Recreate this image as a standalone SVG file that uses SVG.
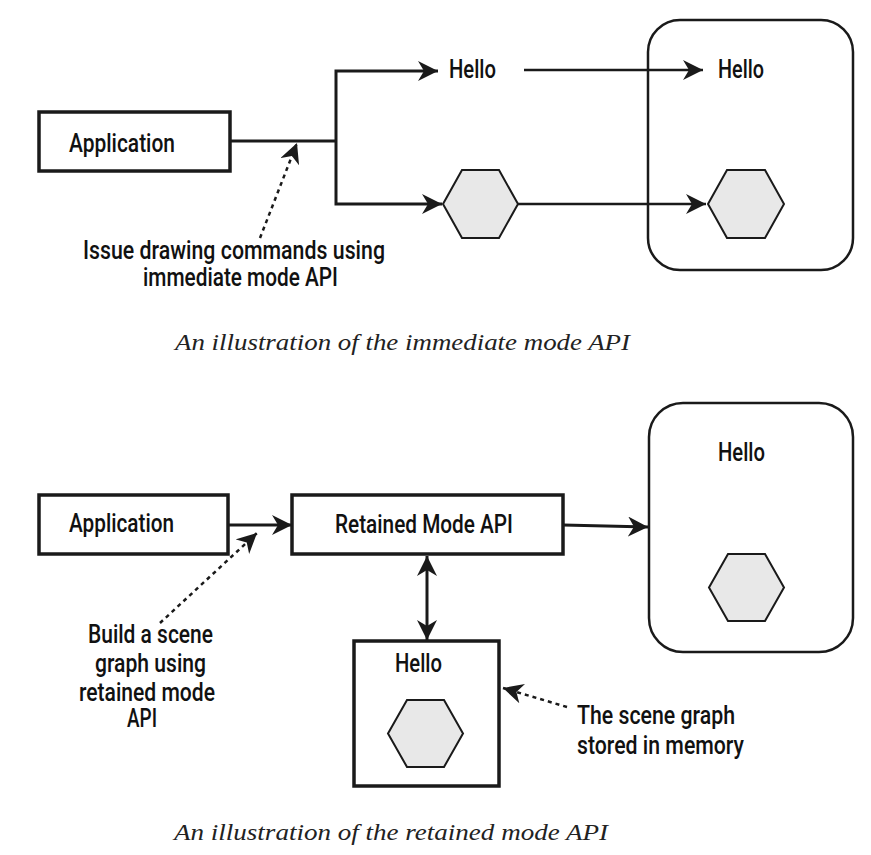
<svg xmlns="http://www.w3.org/2000/svg" width="871" height="855" viewBox="0 0 871 855">
<style>
  .bg{fill:#ffffff}
  .box{fill:#ffffff;stroke:#1a1a1a;stroke-width:3.5}
  .rbox{fill:none;stroke:#1a1a1a;stroke-width:2.5}
  .hex{fill:#e8e8e8;stroke:#1a1a1a;stroke-width:2}
  .lbl{font-family:Roboto,"Liberation Sans",Arial,sans-serif;font-weight:500;font-size:25px;fill:#111111}
  .cap{font-family:"Liberation Serif","Times New Roman",serif;font-style:italic;font-size:23px;fill:#222222}
  .con{fill:none;stroke:#1a1a1a;stroke-width:3;stroke-linejoin:miter}
  .thin{fill:none;stroke:#1a1a1a;stroke-width:2.5}
  .dot{fill:none;stroke:#1a1a1a;stroke-width:2.5;stroke-dasharray:4 4}
</style>
<defs>
  <marker id="ah" viewBox="-20 -10 20 20" refX="0" refY="0" markerWidth="20" markerHeight="20" markerUnits="userSpaceOnUse" orient="auto-start-reverse">
    <path d="M0,0 L-20,-10 L-14,0 L-20,10 Z" fill="#1a1a1a"/>
  </marker>
</defs>
<rect class="bg" x="0" y="0" width="871" height="855"/>

<g id="app1">
  <rect class="box" x="39" y="112" width="191" height="59"/>
  <text class="lbl" x="69" y="152" textLength="106" lengthAdjust="spacingAndGlyphs">Application</text>
</g>
<g id="hello1">
  <text class="lbl" x="449" y="78" textLength="47" lengthAdjust="spacingAndGlyphs">Hello</text>
</g>
<g id="hex1">
  <polygon class="hex" points="443,204 462,170 499,170 518,204 499,238 462,238"/>
</g>
<g id="screen1">
  <rect class="rbox" x="648" y="20" width="205" height="250" rx="32" ry="32"/>
  <text class="lbl" x="718" y="78" textLength="46" lengthAdjust="spacingAndGlyphs">Hello</text>
  <polygon class="hex" points="708,204 727,170 765,170 784,204 765,238 727,238"/>
</g>
<g id="note1">
  <text class="lbl" x="83" y="259" textLength="302" lengthAdjust="spacingAndGlyphs">Issue drawing commands using</text>
  <text class="lbl" x="143" y="286" textLength="195" lengthAdjust="spacingAndGlyphs">immediate mode API</text>
</g>
<g id="caption1">
  <text class="cap" x="175" y="350" textLength="455" lengthAdjust="spacingAndGlyphs">An illustration of the immediate mode API</text>
</g>

<g id="app2">
  <rect class="box" x="39" y="495" width="189" height="59"/>
  <text class="lbl" x="69" y="532" textLength="105" lengthAdjust="spacingAndGlyphs">Application</text>
</g>
<g id="retained">
  <rect class="box" x="292" y="495" width="271" height="59"/>
  <text class="lbl" x="335" y="533" textLength="178" lengthAdjust="spacingAndGlyphs">Retained Mode API</text>
</g>
<g id="screen2">
  <rect class="rbox" x="649" y="403" width="204" height="249" rx="34" ry="34"/>
  <text class="lbl" x="718" y="461" textLength="47" lengthAdjust="spacingAndGlyphs">Hello</text>
  <polygon class="hex" points="709,587.5 728,554 765,554 784,587.5 765,621 728,621"/>
</g>
<g id="scenegraph">
  <rect class="box" x="354" y="641" width="145" height="145"/>
  <text class="lbl" x="395" y="672" textLength="47" lengthAdjust="spacingAndGlyphs">Hello</text>
  <polygon class="hex" points="388,733.5 407,700 444,700 463,733.5 444,767 407,767"/>
</g>
<g id="note2">
  <text class="lbl" x="88" y="643" textLength="125" lengthAdjust="spacingAndGlyphs">Build a scene</text>
  <text class="lbl" x="95" y="672" textLength="111" lengthAdjust="spacingAndGlyphs">graph using</text>
  <text class="lbl" x="79" y="701" textLength="136" lengthAdjust="spacingAndGlyphs">retained mode</text>
  <text class="lbl" x="127" y="727" textLength="30" lengthAdjust="spacingAndGlyphs">API</text>
</g>
<g id="note3">
  <text class="lbl" x="577" y="724" textLength="158" lengthAdjust="spacingAndGlyphs">The scene graph</text>
  <text class="lbl" x="577" y="754" textLength="167" lengthAdjust="spacingAndGlyphs">stored in memory</text>
</g>
<g id="caption2">
  <text class="cap" x="174" y="840" textLength="434" lengthAdjust="spacingAndGlyphs">An illustration of the retained mode API</text>
</g>

<g id="connectors">
  <path class="con" d="M230,141 H336"/>
  <path class="con" d="M336,141 V71 H438" marker-end="url(#ah)"/>
  <path class="con" d="M336,141 V204 H442" marker-end="url(#ah)"/>
  <path class="thin" d="M524,70 H703" marker-end="url(#ah)"/>
  <path class="thin" d="M518,204 H706" marker-end="url(#ah)"/>
  <path class="dot" d="M260,238 L297,143" marker-end="url(#ah)"/>
  <path class="con" d="M228,525 H292" marker-end="url(#ah)"/>
  <path class="con" d="M563,525 L648,527" marker-end="url(#ah)"/>
  <path class="con" d="M427,556 V640" marker-start="url(#ah)" marker-end="url(#ah)"/>
  <path class="dot" d="M160,623 L257,533" marker-end="url(#ah)"/>
  <path class="dot" d="M567,707 L503,688" marker-end="url(#ah)"/>
</g>
</svg>
